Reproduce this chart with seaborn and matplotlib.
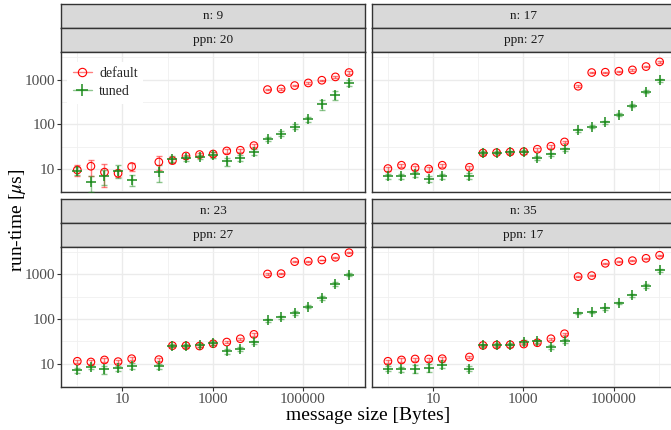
import numpy as np
import pandas as pd
import seaborn as sns
import matplotlib.pyplot as plt
from matplotlib.lines import Line2D
from matplotlib.ticker import FixedLocator, FuncFormatter, NullFormatter

# message sizes in bytes (32 is not measured)
sizes = [1, 2, 4, 8, 16, 64, 128, 256, 512, 1024, 2048, 4096, 8192,
         16384, 32768, 65536, 131072, 262144, 524288, 1048576]

panel_n = ["9", "17", "23", "35"]
panel_ppn = ["20", "27", "27", "17"]

# run-time in microseconds
default_n9 = [9.5, 11.5, 8.5, 8.0, 11.3, 14.3, 15.4, 19.5, 21, 21.6, 25.3, 26.2, 33.3,
              597, 618, 734, 841, 966, 1148, 1436]
tuned_n9 = [9.2, 5.1, 6.9, 9.2, 5.7, 8.7, 17, 17.3, 18.6, 20.6, 14.8, 17.9, 24.4,
            47, 62, 89, 129, 281, 454, 841]
default_n17 = [10.2, 12.1, 10.7, 10.0, 12.1, 10.9, 22.8, 23.2, 24.0, 24.4, 27.6, 32.2, 40.2,
               709, 1436, 1460, 1538, 1646, 1954, 2489]
tuned_n17 = [6.9, 6.9, 7.6, 6.1, 6.9, 7.1, 22.8, 23.2, 23.6, 24.0, 17.9, 21.3, 27.6,
             74, 89, 111, 164, 262, 530, 966]
default_n23 = [11.3, 10.9, 12.1, 11.1, 12.9, 12.3, 25.2, 25.2, 24.8, 27.9, 30.4, 36.1, 45.2,
               1016, 1033, 1919, 1952, 2090, 2395, 3041]
tuned_n23 = [7.2, 8.5, 7.5, 8.0, 9.0, 8.7, 25.2, 25.2, 26.5, 28.9, 18.8, 21.6, 29.9,
             94, 108, 137, 190, 297, 608, 984]
default_n35 = [11.3, 12.1, 12.7, 12.7, 12.9, 14.1, 25.6, 26.1, 26.5, 27.5, 29.4, 36.1, 46.7,
               887, 934, 1758, 1919, 2017, 2275, 2656]
tuned_n35 = [7.7, 7.5, 7.7, 8.1, 9.5, 7.7, 26.1, 26.5, 26.5, 30.4, 31.5, 23.5, 32.0,
             135, 144, 174, 226, 340, 550, 1228]

# standard deviations (error bars)
default_err_n9 = [2.5, 4.5, 4.5, 1.5, 2.5, 5, 1.5, 1.5, 1.5, 2, 2, 2, 2,
                  20, 20, 25, 30, 30, 40, 80]
tuned_err_n9 = [2, 2.0, 2.5, 3, 1.5, 3.5, 3, 2.5, 2, 3, 3, 2.5, 4,
                5, 7, 10, 15, 70, 100, 130]
default_err_n17 = [1, 1, 1, 1, 1, 1, 1, 1, 1, 1, 2, 2, 3,
                   30, 40, 40, 40, 50, 60, 80]
tuned_err_n17 = [1, 0.8, 1, 1, 1, 1, 2, 2, 2, 2.5, 2, 2, 2.5,
                 6, 8, 10, 12, 20, 40, 70]
default_err_n23 = [1, 1, 1, 1, 1, 1, 1, 1, 1, 1.5, 2, 2, 3,
                   30, 30, 50, 50, 50, 60, 80]
tuned_err_n23 = [1, 1, 1.5, 1, 1.5, 1, 2, 2.5, 2.5, 3, 2, 2, 3,
                 8, 10, 12, 15, 25, 50, 80]
default_err_n35 = [1, 1, 1, 1, 1, 1, 1, 1, 1, 1.5, 2, 2, 3,
                   30, 30, 50, 50, 50, 60, 80]
tuned_err_n35 = [1, 1, 1.5, 1.5, 1.5, 1, 2, 2.5, 2.5, 3, 2.5, 2, 3,
                 8, 10, 12, 15, 25, 50, 100]

series = {
    "9": (default_n9, default_err_n9, tuned_n9, tuned_err_n9),
    "17": (default_n17, default_err_n17, tuned_n17, tuned_err_n17),
    "23": (default_n23, default_err_n23, tuned_n23, tuned_err_n23),
    "35": (default_n35, default_err_n35, tuned_n35, tuned_err_n35),
}

rows = []
for n in panel_n:
    d, de, t, te = series[n]
    for i, s in enumerate(sizes):
        rows.append((n, "default", s, d[i], de[i]))
        rows.append((n, "tuned", s, t[i], te[i]))
df = pd.DataFrame(rows, columns=["n", "variant", "size", "time", "err"])

RED = "#FF0000"
GREEN = "#1E8C1E"

sns.set_theme(style="whitegrid")
plt.rcParams["font.family"] = ["Liberation Serif", "DejaVu Serif"]
plt.rcParams["mathtext.fontset"] = "stix"

W, H = 671, 430
fig = plt.figure(figsize=(W / 100, H / 100), dpi=100)
fig.patch.set_facecolor("white")


def box(x0, y0, x1, y1):
    return [x0 / W, 1 - y1 / H, (x1 - x0) / W, (y1 - y0) / H]


col_x = [(61, 365), (371.6, 675.6)]
row_y = [(4, 52, 192), (198.7, 246.7, 386.7)]

for k, n in enumerate(panel_n):
    r, c = divmod(k, 2)
    x0, x1 = col_x[c]
    ys, yp, yb = row_y[r]

    # strips
    for j, txt in enumerate([f"n: {n}", f"ppn: {panel_ppn[k]}"]):
        sa = fig.add_axes(box(x0, ys + 24 * j, x1, ys + 24 * (j + 1)))
        sa.set_facecolor("#D9D9D9")
        sa.set_xticks([]); sa.set_yticks([])
        sa.grid(False)
        for sp in sa.spines.values():
            sp.set_color("#333333"); sp.set_linewidth(1.0)
        sa.text(0.5, 0.5, txt, ha="center", va="center", fontsize=9.5,
                color="#1A1A1A", transform=sa.transAxes)

    ax = fig.add_axes(box(x0, yp, x1, yb))
    ax.set_xscale("log"); ax.set_yscale("log")
    ax.set_xlim(0.435, 2.37e6)
    ax.set_ylim(3.05, 4140)

    sub = df[df["n"] == n]
    for variant, color in [("default", RED), ("tuned", GREEN)]:
        s = sub[sub["variant"] == variant]
        ax.errorbar(s["size"], s["time"], yerr=s["err"], fmt="none", ecolor=color,
                    alpha=0.5, elinewidth=1.0, capsize=2.2, capthick=1.0, zorder=3)
    sd = sub[sub["variant"] == "default"]
    st = sub[sub["variant"] == "tuned"]
    sns.scatterplot(data=sd, x="size", y="time", ax=ax, marker="o", s=30,
                    facecolors="none", edgecolor=RED, linewidth=0.8, zorder=4)
    sns.scatterplot(data=st, x="size", y="time", ax=ax, marker="+", s=60,
                    color=GREEN, linewidth=1.1, zorder=4)

    ax.xaxis.set_major_locator(FixedLocator([10, 1000, 100000]))
    ax.xaxis.set_minor_locator(FixedLocator([1, 100, 10000, 1000000]))
    ax.yaxis.set_major_locator(FixedLocator([10, 100, 1000]))
    ax.yaxis.set_minor_locator(FixedLocator([10 ** 0.5, 10 ** 1.5, 10 ** 2.5, 10 ** 3.5]))
    fmt = FuncFormatter(lambda v, p: f"{v:.0f}")
    ax.xaxis.set_major_formatter(fmt); ax.yaxis.set_major_formatter(fmt)
    ax.xaxis.set_minor_formatter(NullFormatter()); ax.yaxis.set_minor_formatter(NullFormatter())
    ax.grid(True, which="major", color="#EBEBEB", linewidth=1.0)
    ax.grid(True, which="minor", color="#F0F0F0", linewidth=0.6)
    ax.set_axisbelow(True)
    ax.set_xlabel(""); ax.set_ylabel("")
    ax.tick_params(which="major", length=2.75, width=0.8, color="#333333",
                   labelsize=11, labelcolor="#4D4D4D", pad=1.5,
                   bottom=True, left=True)
    ax.tick_params(which="minor", length=0)
    if r == 0:
        ax.tick_params(axis="x", labelbottom=False, bottom=False)
    if c == 1:
        ax.tick_params(axis="y", labelleft=False, left=False)
    for sp in ax.spines.values():
        sp.set_color("#333333"); sp.set_linewidth(1.0)

    if k == 0:
        h_def = (Line2D([0], [0], color=RED, lw=1.0, alpha=0.5),
                 Line2D([0], [0], color=RED, lw=0, marker="o", mfc="none", ms=6, mew=0.8))
        h_tun = (Line2D([0], [0], color=GREEN, lw=1.0, alpha=0.5),
                 Line2D([0], [0], color=GREEN, lw=0, marker="+", ms=9, mew=1.1))
        leg = ax.legend([h_def, h_tun], ["default", "tuned"], loc="upper left",
                        bbox_to_anchor=(0.02, 0.93), borderaxespad=0, fontsize=10,
                        frameon=True, fancybox=False, framealpha=1, edgecolor="white",
                        handlelength=1.4, handletextpad=0.5, labelspacing=0.35,
                        borderpad=0.4)
        leg.get_frame().set_linewidth(0)

fig.text(368 / W, 1 - 416 / H, "message size [Bytes]", ha="center", va="center",
         fontsize=14, color="black")
fig.text(18 / W, 1 - 220 / H, r"run-time [$\mu$s]", ha="center", va="center",
         rotation=90, fontsize=14, color="black")

fig.savefig("out.png", dpi=100, facecolor="white")
